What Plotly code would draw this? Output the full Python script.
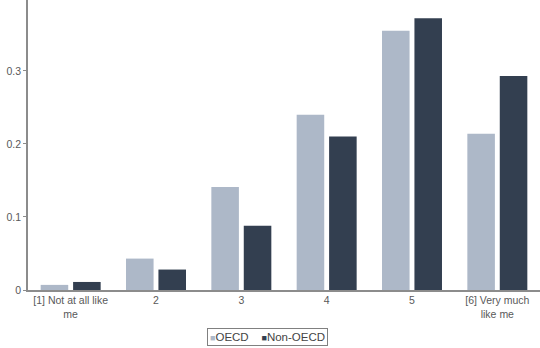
import plotly.graph_objects as go

categories = ["[1] Not at all like<br>me", "2", "3", "4", "5", "[6] Very much<br>like me"]
oecd = [0.007, 0.043, 0.141, 0.240, 0.355, 0.214]
non_oecd = [0.011, 0.028, 0.088, 0.210, 0.372, 0.293]
series_names = ["OECD", "Non-OECD"]
colors = ["#adb8c8", "#333f50"]
ytick_vals = [0, 0.1, 0.2, 0.3]
ytick_text = ["0", "0.1", "0.2", "0.3"]

fig = go.Figure()
for name, vals, c in zip(series_names, [oecd, non_oecd], colors):
    fig.add_trace(go.Bar(x=categories, y=vals, name=name, marker_color=c,
                         marker_line_width=0, showlegend=False))

legend_text = "    ".join(
    f"<span style='color:{c};font-size:9px'>■</span>{n}" for n, c in zip(series_names, colors)
)
fig.add_annotation(text=legend_text, xref="paper", yref="paper",
                   x=(267 - 28) / 512, y=-(328 - 290) / 290, xanchor="center", yanchor="top",
                   showarrow=False, bordercolor="#808080", borderwidth=1, borderpad=2,
                   font=dict(family="Liberation Sans", size=11.5, color="#444444"))

fig.update_layout(
    width=540, height=348,
    margin=dict(l=28, r=0, t=0, b=58),
    paper_bgcolor="white", plot_bgcolor="white",
    barmode="group", bargap=0.24, bargroupgap=0.15,
    font=dict(family="Liberation Sans", size=10, color="#595959"),
    xaxis=dict(showline=True, linecolor="#8c8c8c", linewidth=1.5, ticks="",
               tickfont=dict(size=10.5), showgrid=False, zeroline=False),
    yaxis=dict(range=[0, 0.397], tickvals=ytick_vals, ticktext=ytick_text,
               showline=True, linecolor="#8c8c8c", linewidth=1.5, ticks="outside",
               ticklen=3, tickcolor="#8c8c8c", showgrid=False, zeroline=False,
               tickfont=dict(size=10.5)),
)

fig.write_html("out.html")
